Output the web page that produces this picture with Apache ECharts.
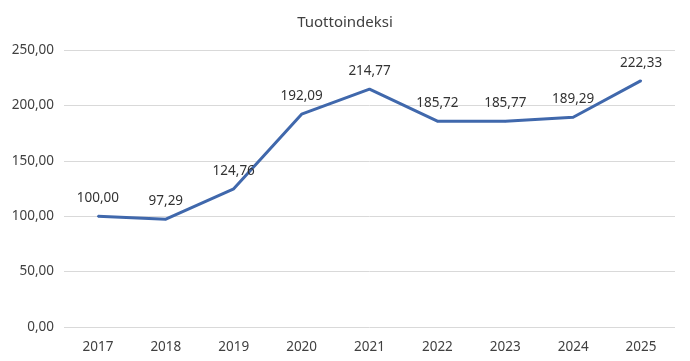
<!DOCTYPE html>
<html><head><meta charset="utf-8">
<script src="https://cdn.jsdelivr.net/npm/echarts@6/dist/echarts.min.js"></script>
<style>html,body{margin:0;padding:0;background:#fff}#c{width:690px;height:361px}</style>
</head><body><div id="c"></div>
<script>
const title = 'Tuottoindeksi';
const years = ['2017','2018','2019','2020','2021','2022','2023','2024','2025'];
const values = [100.00, 97.29, 124.76, 192.09, 214.77, 185.72, 185.77, 189.29, 222.33];
const yTicks = [0, 50, 100, 150, 200, 250];

const fmt = v => Number(v).toFixed(2).replace('.', ',');
const font = '"Noto Sans", sans-serif';
const chart = echarts.init(document.getElementById('c'));
chart.setOption({
  animation: false,
  title: { text: title, left: 'center', top: 10, textStyle: { fontFamily: font, fontSize: 15, fontWeight: 'normal', color: '#404040' } },
  grid: { left: 64, right: 15, top: 50, bottom: 34 },
  xAxis: {
    type: 'category', data: years, boundaryGap: true,
    axisLine: { show: false }, axisTick: { show: false },
    axisLabel: { fontFamily: font, fontSize: 13.5, color: '#404040', margin: 13 }
  },
  yAxis: {
    type: 'value', min: yTicks[0], max: yTicks[yTicks.length-1], interval: 50,
    axisLabel: { formatter: fmt, fontFamily: font, fontSize: 13.5, color: '#404040', margin: 10 },
    splitLine: { lineStyle: { color: '#d9d9d9', width: 1 } },
    axisLine: { show: false }, axisTick: { show: false }
  },
  series: [{
    type: 'line', data: values, symbol: 'circle', symbolSize: 2, showSymbol: true,
    lineStyle: { color: '#4068AC', width: 3 },
    itemStyle: { color: '#4068AC' },
    label: { show: true, position: 'top', distance: 10, formatter: p => fmt(p.value), fontFamily: font, fontSize: 13.5, color: '#333333' },
    labelLayout: { hideOverlap: false }
  }]
});
</script></body></html>
